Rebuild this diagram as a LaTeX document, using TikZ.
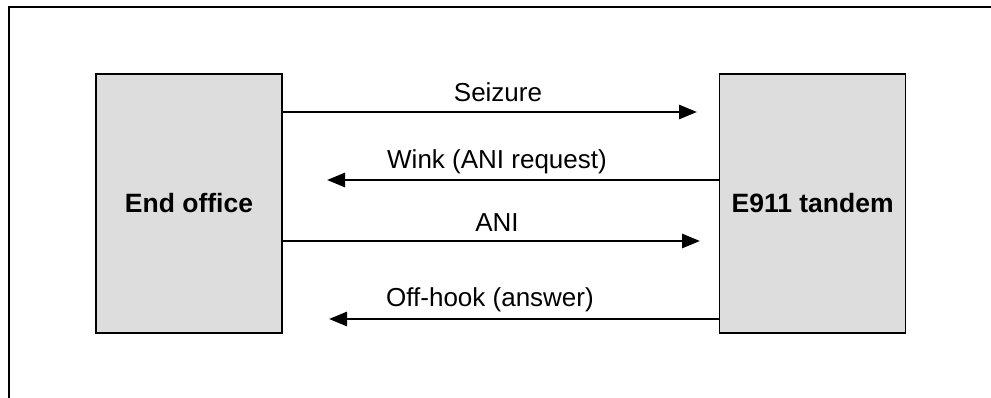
\documentclass[tikz,border=0pt]{standalone}
\usepackage{fontspec}
\setmainfont{Liberation Sans}
\usetikzlibrary{arrows.meta,positioning}
\definecolor{boxgray}{HTML}{DDDDDD}

\begin{document}
\begin{tikzpicture}[
  x=1pt, y=-1pt,
  node distance=436pt,
  office/.style={draw, line width=1.6pt, fill=boxgray, inner sep=0pt, minimum width=186pt, minimum height=259pt, font=\fontsize{26.5}{30}\selectfont\bfseries},
  msg/.style={line width=2.8pt, -{Triangle[length=18pt,width=14pt]}},
  lbl/.style={anchor=base, inner sep=0pt, font=\fontsize{26}{30}\selectfont}
]
\useasboundingbox (0,0) rectangle (991,398);
\draw[line width=2.2pt] (9,400) |- (992,7);
\node[office] (eo) at (189,203.5) {End office};
\node[office, right=of eo] (tandem) {E911 tandem};
% free ends of the messages
\coordinate (seize) at (697,112);
\coordinate (wink) at (327,180);
\coordinate (ani) at (700,241);
\coordinate (offhook) at (329,319);
\draw[msg] (eo.east |- seize) -- (seize);
\draw[msg] (tandem.west |- wink) -- (wink);
\draw[msg] (eo.east |- ani) -- (ani);
\draw[msg] (tandem.west |- offhook) -- (offhook);
\node[lbl] (seizelbl) at (498,102) {Seizure};
\node[lbl] (winklbl) at (497,169) {Wink (ANI request)};
\node[lbl] (anilbl) at (497,232) {ANI};
\node[lbl] (offhooklbl) at (490,306) {Off-hook (answer)};
\end{tikzpicture}
\end{document}
